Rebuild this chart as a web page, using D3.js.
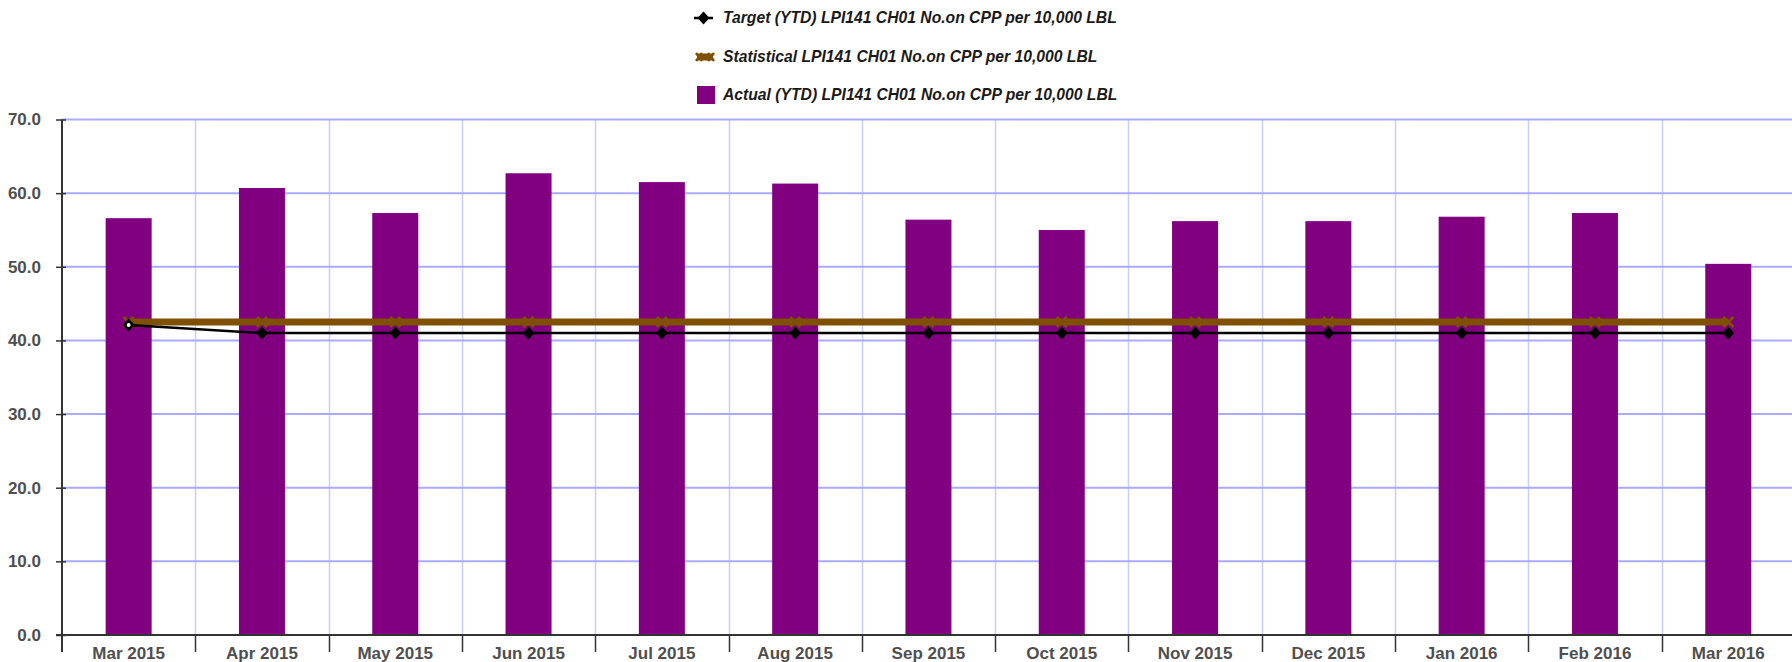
<!DOCTYPE html>
<meta charset='utf-8'>
<style>
  body { margin: 0; background: #fff; }
  text { font-family: 'Liberation Sans', Arial, sans-serif; }
</style>
<body>
<script src='https://d3js.org/d3.v7.min.js'></script>
<script>

var months = ['Mar 2015', 'Apr 2015', 'May 2015', 'Jun 2015', 'Jul 2015', 'Aug 2015', 'Sep 2015',
              'Oct 2015', 'Nov 2015', 'Dec 2015', 'Jan 2016', 'Feb 2016', 'Mar 2016'];
var actual = [56.6, 60.7, 57.3, 62.7, 61.5, 61.3, 56.4, 55.0, 56.2, 56.2, 56.8, 57.3, 50.4];
var target = [42.1, 41.0, 41.0, 41.0, 41.0, 41.0, 41.0, 41.0, 41.0, 41.0, 41.0, 41.0, 41.0];
var statistical = [42.5, 42.5, 42.5, 42.5, 42.5, 42.5, 42.5, 42.5, 42.5, 42.5, 42.5, 42.5, 42.5];
var yTicks = [0, 10, 20, 30, 40, 50, 60, 70];
var legendLabels = ['Target (YTD) LPI141 CH01 No.on CPP per 10,000 LBL',
                    'Statistical LPI141 CH01 No.on CPP per 10,000 LBL',
                    'Actual (YTD) LPI141 CH01 No.on CPP per 10,000 LBL'];

var colors = { purple: '#800080', brown: '#7f5000', black: '#000000',
               hGrid: '#aaaaff', vGrid: '#ccccff', axis: '#333333', label: '#4f4f4f' };
var width = 1792, height = 662;
var plotLeft = 62, plotTop = 119.5, plotBottom = 635, band = 133.3;

var svg = d3.select('body').append('svg')
    .attr('width', width)
    .attr('height', height);

var x = d3.scaleBand()
    .domain(months)
    .range([plotLeft, plotLeft + band * months.length]);

var y = d3.scaleLinear()
    .domain([0, 70])
    .range([plotBottom, plotTop]);

// grid
svg.append('g').selectAll('line')
    .data(months.slice(1))
    .enter().append('line')
    .attr('x1', function(d){ return Math.round(x(d)) + 0.5; })
    .attr('x2', function(d){ return Math.round(x(d)) + 0.5; })
    .attr('y1', plotTop)
    .attr('y2', plotBottom)
    .attr('stroke', colors.vGrid)
    .attr('stroke-width', 1.5);

svg.append('g').selectAll('line')
    .data(yTicks.slice(1))
    .enter().append('line')
    .attr('x1', plotLeft)
    .attr('x2', width)
    .attr('y1', function(d){ return y(d); })
    .attr('y2', function(d){ return y(d); })
    .attr('stroke', colors.hGrid)
    .attr('stroke-width', 2);

// bars
var barW = x.bandwidth() * 0.345;
svg.append('g').selectAll('rect')
    .data(actual)
    .enter().append('rect')
    .attr('x', function(d, i){ return x(months[i]) + (x.bandwidth() - barW) / 2; })
    .attr('y', function(d){ return y(d); })
    .attr('width', barW)
    .attr('height', function(d){ return plotBottom - y(d); })
    .attr('fill', colors.purple);

// axes
var yAxis = svg.append('g')
    .attr('transform', 'translate(' + plotLeft + ',0)')
    .call(d3.axisLeft(y).tickValues(yTicks).tickFormat(d3.format('.1f')).tickSizeOuter(0).tickSizeInner(6).tickPadding(15));
yAxis.select('.domain').remove();
yAxis.selectAll('.tick line').attr('x1', 4).attr('stroke', colors.axis).attr('stroke-width', 1.5);
yAxis.selectAll('text')
    .attr('fill', colors.label)
    .style('font-size', '17px')
    .style('font-weight', 'bold');

svg.append('line')
    .attr('x1', plotLeft).attr('x2', plotLeft)
    .attr('y1', plotTop).attr('y2', plotBottom + 17)
    .attr('stroke', colors.axis)
    .attr('stroke-width', 2);

var xAxis = svg.append('g')
    .attr('transform', 'translate(0,' + plotBottom + ')')
    .call(d3.axisBottom(x).tickSize(0).tickPadding(12));
xAxis.select('.domain').remove();
xAxis.selectAll('text')
    .attr('fill', colors.label)
    .style('font-size', '17px')
    .style('font-weight', 'bold');

svg.append('line')
    .attr('x1', plotLeft - 6).attr('x2', width)
    .attr('y1', plotBottom).attr('y2', plotBottom)
    .attr('stroke', colors.axis)
    .attr('stroke-width', 2);

svg.append('g').selectAll('line')
    .data(months.slice(1))
    .enter().append('line')
    .attr('x1', function(d){ return Math.round(x(d)) + 0.5; })
    .attr('x2', function(d){ return Math.round(x(d)) + 0.5; })
    .attr('y1', plotBottom)
    .attr('y2', plotBottom + 17)
    .attr('stroke', colors.axis)
    .attr('stroke-width', 1.5);

// lines
function cx(i){ return x(months[i]) + x.bandwidth() / 2; }

var line = d3.line()
    .x(function(d, i){ return cx(i); })
    .y(function(d){ return y(d); });

svg.append('path')
    .datum(statistical)
    .attr('d', line)
    .attr('fill', 'none')
    .attr('stroke', colors.brown)
    .attr('stroke-width', 7);

svg.append('g').selectAll('path')
    .data(statistical)
    .enter().append('path')
    .attr('transform', function(d, i){ return 'translate(' + cx(i) + ',' + y(d) + ')'; })
    .attr('d', 'M-5,-5L5,5M5,-5L-5,5')
    .attr('stroke', colors.brown)
    .attr('stroke-width', 3);

svg.append('path')
    .datum(target)
    .attr('d', line)
    .attr('fill', 'none')
    .attr('stroke', colors.black)
    .attr('stroke-width', 2.5);

var diamond = 'M0,-6.5L6,0L0,6.5L-6,0Z';
svg.append('g').selectAll('path')
    .data(target)
    .enter().append('path')
    .attr('transform', function(d, i){ return 'translate(' + cx(i) + ',' + y(d) + ')'; })
    .attr('d', diamond)
    .attr('fill', colors.black);

// hollow centre on the first target point
svg.append('circle')
    .attr('cx', cx(0))
    .attr('cy', y(target[0]))
    .attr('r', 2)
    .attr('fill', '#ffffff');

// legend
var legend = svg.append('g');
var legendY = [18, 57, 95];

legend.selectAll('text')
    .data(legendLabels)
    .enter().append('text')
    .attr('x', 723)
    .attr('y', function(d, i){ return legendY[i]; })
    .attr('dy', '0.35em')
    .attr('fill', '#1a1a1a')
    .style('font-size', '15.7px')
    .style('font-weight', 'bold')
    .style('font-style', 'italic')
    .text(function(d){ return d; });

legend.append('line')
    .attr('x1', 694).attr('x2', 713)
    .attr('y1', legendY[0]).attr('y2', legendY[0])
    .attr('stroke', colors.black).attr('stroke-width', 2.5);
legend.append('path')
    .attr('transform', 'translate(703.5,' + legendY[0] + ')')
    .attr('d', diamond)
    .attr('fill', colors.black);

legend.append('line')
    .attr('x1', 697).attr('x2', 713)
    .attr('y1', legendY[1]).attr('y2', legendY[1])
    .attr('stroke', colors.brown).attr('stroke-width', 7);
legend.append('path')
    .attr('transform', 'translate(699,' + legendY[1] + ')')
    .attr('d', 'M-3,-4L3,4M3,-4L-3,4')
    .attr('stroke', colors.brown).attr('stroke-width', 2.5);
legend.append('path')
    .attr('transform', 'translate(711,' + legendY[1] + ')')
    .attr('d', 'M-3,-4L3,4M3,-4L-3,4')
    .attr('stroke', colors.brown).attr('stroke-width', 2.5);

legend.append('rect')
    .attr('x', 697).attr('y', legendY[2] - 9)
    .attr('width', 18).attr('height', 18)
    .attr('fill', colors.purple);

</script>
</body>
